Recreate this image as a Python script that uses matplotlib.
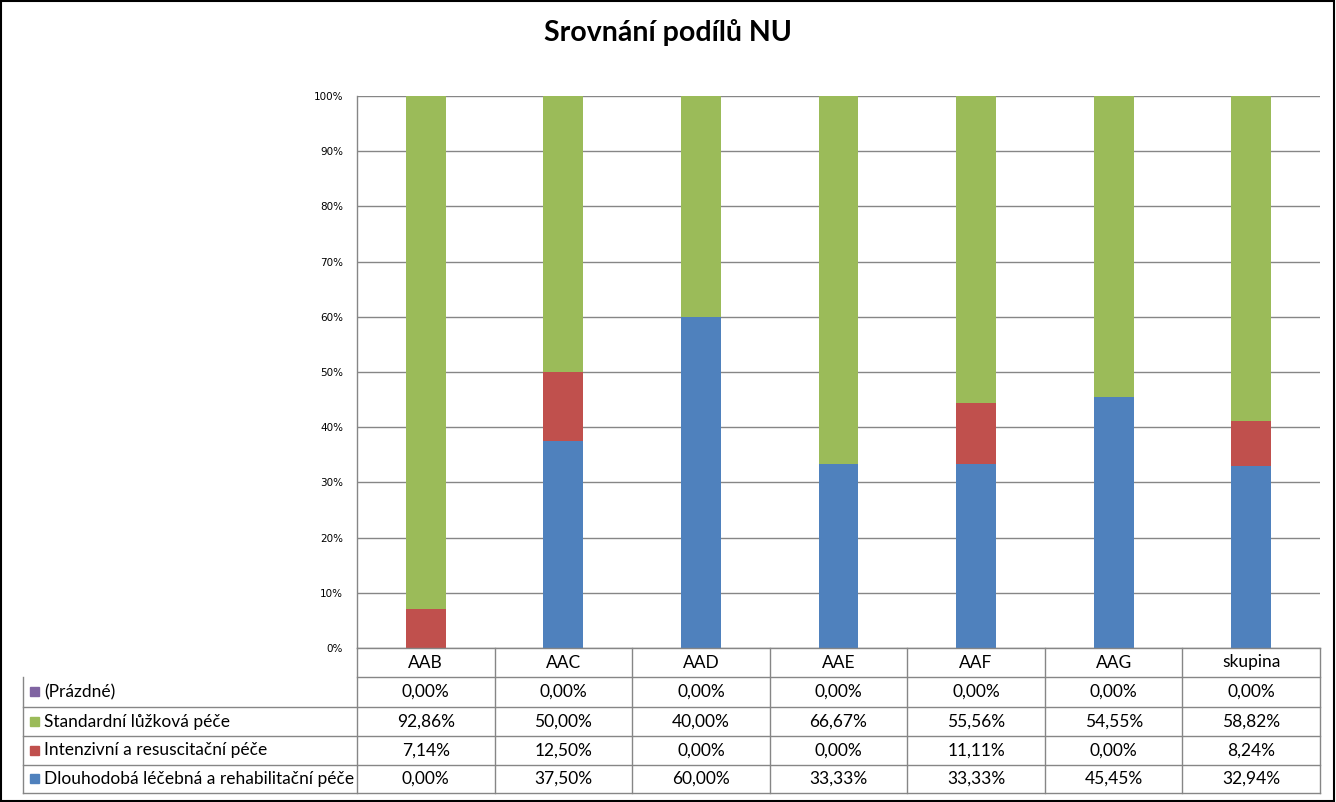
import matplotlib
matplotlib.use("Agg")
import matplotlib.pyplot as plt
from matplotlib.transforms import blended_transform_factory
from matplotlib.lines import Line2D
from matplotlib.patches import Rectangle

categories = ["AAB", "AAC", "AAD", "AAE", "AAF", "AAG", "skupina"]
prazdne = [0.00, 0.00, 0.00, 0.00, 0.00, 0.00, 0.00]
standardni = [92.86, 50.00, 40.00, 66.67, 55.56, 54.55, 58.82]
intenzivni = [7.14, 12.50, 0.00, 0.00, 11.11, 0.00, 8.24]
dlouhodoba = [0.00, 37.50, 60.00, 33.33, 33.33, 45.45, 32.94]
series_names = ["(Prázdné)", "Standardní lůžková péče",
                "Intenzivní a resuscitační péče",
                "Dlouhodobá léčebná a rehabilitační péče"]
yticks = list(range(0, 101, 10))

C_BLUE = "#4F81BD"
C_RED = "#C0504D"
C_GREEN = "#9BBB59"
C_PURPLE = "#8064A2"
GRID = "#868686"

W, H = 1336, 802
fig = plt.figure(figsize=(W / 100, H / 100), dpi=100)

def fx(px):
    return px / W

def fy(py):
    return 1 - py / H

ax = fig.add_axes([fx(357), fy(648), fx(1320) - fx(357), fy(96) - fy(648)])
x = list(range(len(categories)))
bw = 0.29
ax.bar(x, dlouhodoba, bw, color=C_BLUE, zorder=3)
b2 = [d for d in dlouhodoba]
ax.bar(x, intenzivni, bw, bottom=b2, color=C_RED, zorder=3)
b3 = [d + i for d, i in zip(dlouhodoba, intenzivni)]
ax.bar(x, standardni, bw, bottom=b3, color=C_GREEN, zorder=3)
b4 = [a + s for a, s in zip(b3, standardni)]
ax.bar(x, prazdne, bw, bottom=b4, color=C_PURPLE, zorder=3)

ax.set_xlim(-0.5, len(categories) - 0.5)
ax.set_ylim(0, 100)
ax.set_yticks(yticks)
ax.set_yticklabels([f"{t}%" for t in yticks], fontsize=7.5, family="DejaVu Sans")
ax.tick_params(axis="y", length=0, pad=10)
ax.set_xticks([])
ax.grid(axis="y", color=GRID, linewidth=1, zorder=0)
for s in ["top", "right", "bottom"]:
    ax.spines[s].set_visible(False)
ax.spines["left"].set_color(GRID)
ax.spines["left"].set_linewidth(1)

fig.text(0.5, fy(32), "Srovnání podílů NU", ha="center", va="center",
         fontsize=20.5, fontweight="bold", family="Lato")

# ---- data table ----
bt = blended_transform_factory(ax.transData, fig.transFigure)
row_lines = [648, 677, 707, 736, 765, 793]
line_kw = dict(color=GRID, linewidth=1)

for i in range(len(categories) + 1):
    xb = i - 0.5
    fig.add_artist(Line2D([xb, xb], [fy(648), fy(793)], transform=bt, **line_kw))
fig.add_artist(Line2D([fx(23), fx(23)], [fy(677), fy(793)],
                      transform=fig.transFigure, **line_kw))
xr = ax.transData.transform((len(categories) - 0.5, 0))[0] / W
xl = ax.transData.transform((-0.5, 0))[0] / W
fig.add_artist(Line2D([xl, xr], [fy(648), fy(648)], transform=fig.transFigure, **line_kw))
fig.add_artist(Line2D([xl, xr], [fy(677), fy(677)], transform=fig.transFigure, **line_kw))
for ry in row_lines[2:]:
    fig.add_artist(Line2D([fx(23), xr], [fy(ry), fy(ry)], transform=fig.transFigure, **line_kw))

tfont = dict(fontsize=12.5, family="Lato")
for i, c in enumerate(categories):
    fig.text(i, fy((648 + 677) / 2), c, transform=bt, ha="center", va="center", **tfont)

rows = [(series_names[0], prazdne, C_PURPLE),
        (series_names[1], standardni, C_GREEN),
        (series_names[2], intenzivni, C_RED),
        (series_names[3], dlouhodoba, C_BLUE)]

def fmt(v):
    return f"{v:.2f}%".replace(".", ",")

for r, (name, vals, col) in enumerate(rows):
    top, bot = row_lines[r + 1], row_lines[r + 2]
    cy = fy((top + bot) / 2)
    fig.add_artist(Rectangle((fx(30), cy - 4 / H), 9 / W, 9 / H,
                             transform=fig.transFigure, color=col))
    fig.text(fx(44), cy, name, ha="left", va="center", **tfont)
    for i, v in enumerate(vals):
        fig.text(i, cy, fmt(v), transform=bt, ha="center", va="center", **tfont)

fig.add_artist(Rectangle((0.0005, 0.0008), 0.998, 0.998, transform=fig.transFigure,
                         fill=False, edgecolor="black", linewidth=1.5))

fig.savefig("out.png", dpi=100)
